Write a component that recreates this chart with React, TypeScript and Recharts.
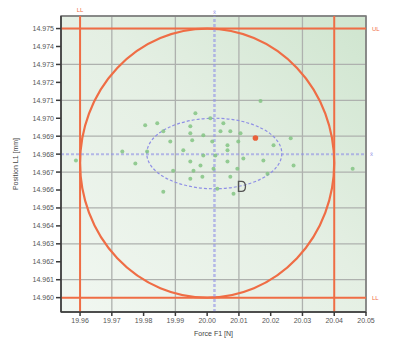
import React from 'react';
import {
  ScatterChart,
  Scatter,
  XAxis,
  YAxis,
  CartesianGrid,
  ReferenceLine,
  ReferenceArea,
  ReferenceDot,
} from 'recharts';

const FONT = '"Liberation Sans", Arial, sans-serif';

// measured samples: Force F1 [N] vs Position L1 [mm]
const forceValues = [
  19.9963, 20.0168, 19.9843, 19.9805, 19.9862, 19.9947, 19.9947, 20.001, 20.0051, 19.9988,
  20.0042, 20.0073, 20.0105, 19.9884, 19.9953, 20.0016, 20.0064, 20.0098, 20.0263, 20.0209,
  19.9733, 19.9811, 19.9925, 20.0064, 20.0026, 19.9988, 20.0114, 20.0177, 19.9774, 19.9947,
  19.9979, 20.0064, 19.9893, 19.9957, 20.002, 20.0095, 20.0272, 19.9947, 19.9985, 20.0073,
  20.019, 19.9862, 20.0032, 20.0083, 19.9587, 20.0458,
];
const positionValues = [
  14.97028, 14.97096, 14.96972, 14.96961, 14.96927, 14.96955, 14.96916, 14.97, 14.96972, 14.96905,
  14.96927, 14.96927, 14.96916, 14.96871, 14.96877, 14.96871, 14.96849, 14.96871, 14.96888, 14.96849,
  14.96815, 14.96815, 14.96821, 14.96821, 14.96792, 14.96792, 14.96776, 14.96765, 14.96748, 14.96759,
  14.96736, 14.96759, 14.96708, 14.96708, 14.96719, 14.96719, 14.96736, 14.96663, 14.96674, 14.96674,
  14.96691, 14.9659, 14.96607, 14.96579, 14.96765, 14.96719,
];
const highlightForce = [20.0152];
const highlightPosition = [14.9689];
const cursorForce = 20.0108;
const cursorPosition = 14.9662;

const xTicks = [19.96, 19.97, 19.98, 19.99, 20.0, 20.01, 20.02, 20.03, 20.04, 20.05];
const yTicks = [
  14.96, 14.961, 14.962, 14.963, 14.964, 14.965, 14.966, 14.967, 14.968, 14.969, 14.97,
  14.971, 14.972, 14.973, 14.974, 14.975,
];
const xDomain = [19.954, 20.05];
const yDomain = [14.9592, 14.9757];

const forceLimits = [19.96, 20.04];
const positionLimits = [14.96, 14.975];
const forceMean = 20.0023;
const positionMean = 14.968;
const spreadForce = [19.981, 20.0235];
const spreadPosition = [14.96607, 14.97];

const points = forceValues.map((f, i) => ({ force: f, position: positionValues[i] }));
const highlight = highlightForce.map((f, i) => ({ force: f, position: highlightPosition[i] }));

const ORANGE = '#ef6d45';
const BLUE = '#8f8fe6';

const ellipseShape =
  (stroke: string, sw: number, dash?: string) =>
  (props: any) => {
    const { x, y, width, height } = props;
    return (
      <ellipse
        cx={x + width / 2}
        cy={y + height / 2}
        rx={Math.abs(width) / 2}
        ry={Math.abs(height) / 2}
        fill="none"
        stroke={stroke}
        strokeWidth={sw}
        strokeDasharray={dash}
      />
    );
  };

const cursorShape = (props: any) => {
  const { cx, cy } = props;
  return (
    <path
      d={`M${cx - 3},${cy - 5} L${cx},${cy - 5} Q${cx + 4},${cy - 5} ${cx + 4},${cy} Q${cx + 4},${cy + 5} ${cx},${cy + 5} L${cx - 3},${cy + 5} Z`}
      fill="none"
      stroke="#555"
      strokeWidth={1.3}
    />
  );
};

const yLabel = (props: any) => {
  const vb = props.viewBox || {};
  const x = (vb.x ?? 0) + 15;
  const y = (vb.y ?? 0) + (vb.height ?? 0) / 2;
  return (
    <text
      x={x}
      y={y}
      transform={`rotate(-90 ${x} ${y})`}
      textAnchor="middle"
      dominantBaseline="central"
      fontSize={7}
      fill="#444"
      fontFamily={FONT}
    >
      Position L1 [mm]
    </text>
  );
};

const smallLabel = (value: string, position: any, color: string, offset = 3) => ({
  value,
  position,
  fill: color,
  fontSize: 6,
  fontFamily: FONT,
  offset,
});

export default function App() {
  return (
    <div style={{ position: 'absolute', left: 0, top: 0, width: 406, height: 342, background: '#fff' }}>
      <svg width={0} height={0} style={{ position: 'absolute' }}>
        <defs>
          <linearGradient id="plotBg" x1="0" y1="1" x2="1" y2="0">
            <stop offset="0%" stopColor="#f1f7f1" />
            <stop offset="55%" stopColor="#e4efe3" />
            <stop offset="100%" stopColor="#cfe5cf" />
          </linearGradient>
        </defs>
      </svg>
      <ScatterChart
        width={406}
        height={342}
        margin={{ top: 16, right: 40, bottom: 0, left: 0 }}
      >
        <CartesianGrid stroke="#aeb1ae" strokeWidth={1.3} fill="url(#plotBg)" fillOpacity={1} />
        <XAxis
          type="number"
          dataKey="force"
          domain={xDomain}
          ticks={xTicks}
          allowDataOverflow
          height={30}
          tickSize={4}
          tickMargin={2}
          tickFormatter={(v: number) => v.toFixed(2)}
          tick={{ fontSize: 7, fill: '#555', fontFamily: FONT }}
          stroke="#3a3a3a"
          strokeWidth={1.5}
          label={{ value: 'Force F1 [N]', position: 'insideBottom', offset: 6, fontSize: 7, fill: '#444', fontFamily: FONT }}
        />
        <YAxis
          type="number"
          dataKey="position"
          domain={yDomain}
          ticks={yTicks}
          allowDataOverflow
          width={61}
          tickSize={5}
          tickMargin={2}
          tickFormatter={(v: number) => v.toFixed(3)}
          tick={{ fontSize: 7, fill: '#555', fontFamily: FONT }}
          stroke="#3a3a3a"
          strokeWidth={1.5}
          label={yLabel}
        />
        <ReferenceArea
          x1={xDomain[0]}
          x2={xDomain[1]}
          y1={yDomain[0]}
          y2={yDomain[1]}
          fill="none"
          stroke="#777"
          strokeWidth={1.5}
          ifOverflow="visible"
        />
        <ReferenceLine x={forceMean} stroke={BLUE} strokeWidth={2.5} strokeOpacity={0.6} strokeDasharray="3 2" ifOverflow="visible" label={smallLabel('x̄', 'top', BLUE, 2)} />
        <ReferenceLine y={positionMean} stroke={BLUE} strokeWidth={2} strokeOpacity={0.6} strokeDasharray="3 2" ifOverflow="visible" label={smallLabel('x̄', 'right', BLUE, 4)} />
        <ReferenceArea
          x1={spreadForce[0]}
          x2={spreadForce[1]}
          y1={spreadPosition[0]}
          y2={spreadPosition[1]}
          shape={ellipseShape(BLUE, 1.2, '3 2')}
        />
        <ReferenceLine x={forceLimits[0]} stroke={ORANGE} strokeWidth={2} label={smallLabel('LL', 'top', ORANGE, 4)} />
        <ReferenceLine x={forceLimits[1]} stroke={ORANGE} strokeWidth={2} />
        <ReferenceLine y={positionLimits[1]} stroke={ORANGE} strokeWidth={2} label={smallLabel('UL', 'right', ORANGE, 6)} />
        <ReferenceLine y={positionLimits[0]} stroke={ORANGE} strokeWidth={2} label={smallLabel('LL', 'right', ORANGE, 6)} />
        <ReferenceArea
          x1={forceLimits[0]}
          x2={forceLimits[1]}
          y1={positionLimits[0]}
          y2={positionLimits[1]}
          shape={ellipseShape(ORANGE, 2.2)}
        />
        <Scatter data={points} fill="#84c484" fillOpacity={0.85} isAnimationActive={false} shape={(p: any) => <circle cx={p.cx} cy={p.cy} r={2} fill="#84c484" fillOpacity={0.85} />} />
        <Scatter data={highlight} fill="#e8603a" isAnimationActive={false} shape={(p: any) => <circle cx={p.cx} cy={p.cy} r={2.8} fill="#e8603a" />} />
        <ReferenceDot x={cursorForce} y={cursorPosition} shape={cursorShape} />
      </ScatterChart>
    </div>
  );
}
